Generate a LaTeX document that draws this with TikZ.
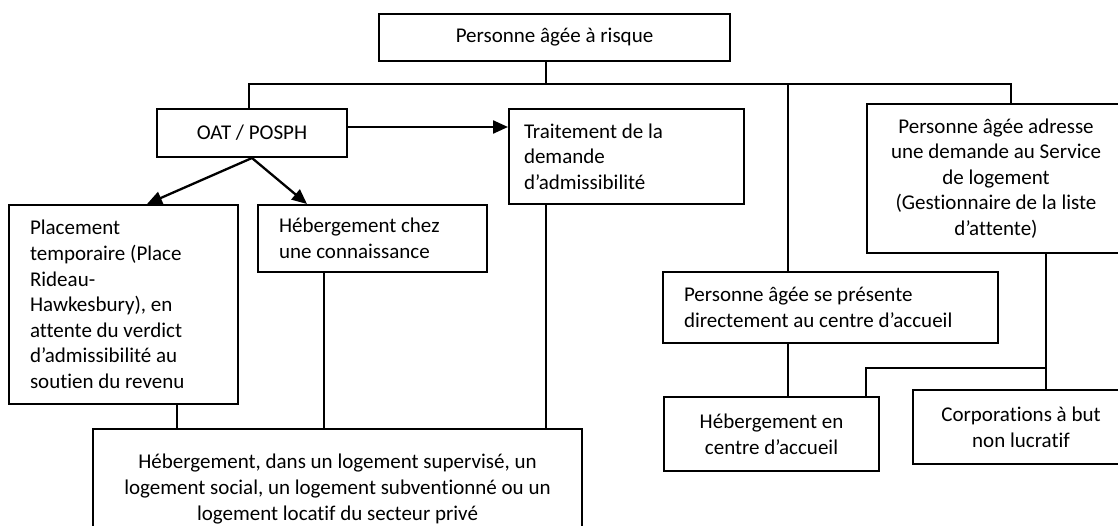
\documentclass[tikz,border=0pt]{standalone}
\usepackage{fontspec}
\setmainfont{Carlito}[Ligatures=NoCommon]
\usetikzlibrary{arrows.meta}

\begin{document}
\begin{tikzpicture}[x=1pt,y=-1pt,
    boite/.style={draw,line width=2pt,inner sep=0pt,anchor=north west,font=\fontsize{21}{25.6}\selectfont},
    lien/.style={line width=1.3pt},
    fleche/.style={line width=2.3pt,-{Triangle[length=15pt,width=13pt]}}]
    \useasboundingbox (0,0) rectangle (1118,525);
    \node[boite,minimum width=351pt,minimum height=47pt,align=center] (A) at (378,13) {Personne âgée à risque};
    \node[boite,minimum width=190pt,minimum height=48pt,align=center] (B) at (156,108) {OAT / POSPH};
    \node[boite,minimum width=235pt,minimum height=95pt,text width=205pt,align=flush left] (C) at (508,108)
        {Traitement de la\\demande\\d’admissibilité};
    \node[boite,minimum width=258pt,minimum height=149pt,align=center] (D) at (866,103)
        {Personne âgée adresse\\une demande au Service\\de logement\\(Gestionnaire de la liste\\d’attente)};
    \node[boite,minimum width=229pt,minimum height=199pt,text width=187pt,align=flush left] (E) at (8,204)
        {Placement\\temporaire (Place\\Rideau-\\Hawkesbury), en\\attente du verdict\\d’admissibilité au\\soutien du revenu};
    \node[boite,minimum width=229pt,minimum height=67pt,text width=187pt,align=flush left] (F) at (257,204)
        {Hébergement chez\\une connaissance};
    \node[boite,minimum width=335pt,minimum height=71pt,text width=293pt,align=flush left] (G) at (662,271)
        {Personne âgée se présente\\directement au centre d’accueil};
    \node[boite,minimum width=215pt,minimum height=74pt,align=center] (H) at (663,396)
        {Hébergement en\\centre d’accueil};
    \node[boite,minimum width=216pt,minimum height=74pt,align=center] (I) at (912,389)
        {Corporations à but\\non lucratif};
    \node[boite,minimum width=489pt,minimum height=120pt,align=center] (J) at (92,428)
        {Hébergement, dans un logement supervisé, un\\logement social, un logement subventionné ou un\\logement locatif du secteur privé};
    \coordinate (K) at (249,84);
    \coordinate (L) at (1011,84);
    \coordinate (M) at (546,84);
    \coordinate (N) at (788,84);
    \coordinate (O) at (508,127);
    \coordinate (P) at (147,204);
    \coordinate (Q) at (307,204);
    \coordinate (R) at (177,0);
    \coordinate (S) at (324,0);
    \coordinate (U) at (1046,368);
    \coordinate (V) at (866,368);
    \draw[lien] (A.south -| M) -- (M);
    \draw[lien] (K |- B.north) -- (K) -- (L) -- (L |- D.north);
    \draw[lien] (N) -- (N |- G.north);
    \draw[fleche] (B.east |- O) -- (O);
    \draw[fleche] (B.south) -- (P);
    \draw[fleche] (B.south) -- (Q);
    \draw[lien] (E.south -| R) -- (J.north -| R);
    \draw[lien] (F.south -| S) -- (J.north -| S);
    \draw[lien] (C.south -| M) -- (J.north -| M);
    \draw[lien] (G.south -| N) -- (H.north -| N);
    \draw[lien] (D.south -| U) -- (I.north -| U);
    \draw[lien] (U) -- (V) -- (V |- H.north);
\end{tikzpicture}
\end{document}
